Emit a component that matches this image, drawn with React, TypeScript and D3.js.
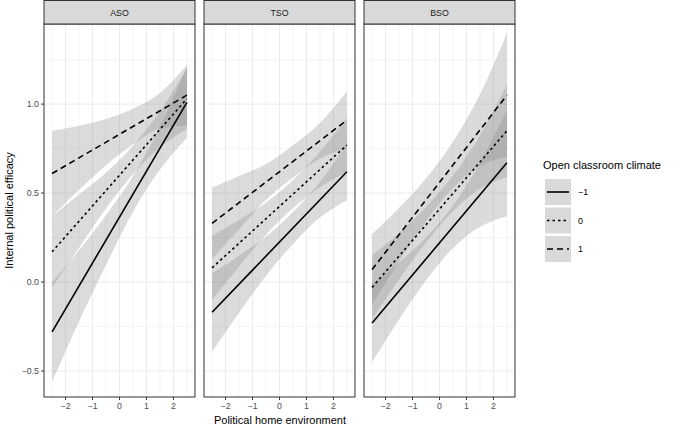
import React from "react";
import * as d3 from "d3";

const panels = ["ASO", "TSO", "BSO"];
const levels = ["-1", "0", "1"];
const xs = [-2.5, -1.5, -0.5, 0.5, 1.5, 2.5];
// fitted line [start, end] per panel, per level
const lineASO = [[-0.28, 1.01], [0.17, 1.03], [0.61, 1.05]];
const lineTSO = [[-0.17, 0.62], [0.08, 0.77], [0.33, 0.91]];
const lineBSO = [[-0.23, 0.67], [-0.03, 0.85], [0.07, 1.05]];
// CI half-widths at xs
const hwASO = [[0.28, 0.2, 0.14, 0.1, 0.12, 0.2], [0.2, 0.15, 0.1, 0.08, 0.1, 0.17], [0.24, 0.18, 0.13, 0.1, 0.1, 0.17]];
const hwTSO = [[0.22, 0.16, 0.11, 0.09, 0.1, 0.16], [0.18, 0.13, 0.09, 0.08, 0.1, 0.15], [0.2, 0.15, 0.1, 0.09, 0.1, 0.16]];
const hwBSO = [[0.22, 0.16, 0.12, 0.12, 0.18, 0.3], [0.18, 0.13, 0.1, 0.1, 0.15, 0.26], [0.2, 0.15, 0.12, 0.13, 0.2, 0.35]];
const xTicks = [-2, -1, 0, 1, 2];
const yTicks = [-0.5, 0, 0.5, 1];
const dashes = [null, "2.5,3", "6,4"];

const lines = [lineASO, lineTSO, lineBSO];
const hws = [hwASO, hwTSO, hwBSO];

export default function App() {
  const W = 685, H = 429;
  const pw = 151, gap = 9, left0 = 44, top = 24, bottom = 397;
  const y = d3.scaleLinear().domain([-0.646, 1.45]).range([bottom, top]);
  const font = "Liberation Sans, Arial, sans-serif";
  return (
    <svg width={W} height={H} style={{ position: "absolute", left: 0, top: 0 }} fontFamily={font}>
      <rect width={W} height={H} fill="#fff" />
      {panels.map((p, pi) => {
        const x0 = left0 + pi * (pw + gap);
        const x = d3.scaleLinear().domain([-2.8, 2.8]).range([x0, x0 + pw]);
        const area = d3.area<number>().x((_, i) => x(xs[i])).curve(d3.curveMonotoneX);
        return (
          <g key={p}>
            {d3.range(-0.5, 1.45, 0.25).map((v) => (
              <line key={"hy" + v} x1={x0} x2={x0 + pw} y1={y(v)} y2={y(v)} stroke="#ebebeb" strokeWidth={Number.isInteger(v * 2) ? 1 : 0.5} />
            ))}
            {d3.range(-2.5, 2.6, 0.5).map((v) => (
              <line key={"vx" + v} x1={x(v)} x2={x(v)} y1={top} y2={bottom} stroke="#ebebeb" strokeWidth={Number.isInteger(v) ? 1 : 0.5} />
            ))}
            {levels.map((l, li) => {
              const [a, b] = lines[pi][li];
              const vals = xs.map((xv) => a + ((b - a) * (xv + 2.5)) / 5);
              const hw = hws[pi][li];
              const path = area.y0((_, i) => y(vals[i] - hw[i])).y1((_, i) => y(vals[i] + hw[i]))(vals);
              return <path key={"r" + l} d={path || ""} fill="#888" fillOpacity={0.3} />;
            })}
            {levels.map((l, li) => {
              const [a, b] = lines[pi][li];
              return (
                <line key={"l" + l} x1={x(-2.5)} y1={y(a)} x2={x(2.5)} y2={y(b)} stroke="#000" strokeWidth={1.6}
                  strokeDasharray={dashes[li] || undefined} />
              );
            })}
            <rect x={x0} y={top} width={pw} height={bottom - top} fill="none" stroke="#333" strokeWidth={1} />
            <rect x={x0} y={0.5} width={pw} height={top - 0.5} fill="#d9d9d9" stroke="#333" strokeWidth={1} />
            <text x={x0 + pw / 2} y={15.5} textAnchor="middle" fontSize={8.8} fill="#1a1a1a">{p}</text>
            {xTicks.map((t) => (
              <g key={"xt" + t}>
                <line x1={x(t)} x2={x(t)} y1={bottom} y2={bottom + 3} stroke="#333" />
                <text x={x(t)} y={bottom + 12} textAnchor="middle" fontSize={8.8} fill="#4d4d4d">{t < 0 ? "\u2212" + -t : t}</text>
              </g>
            ))}
          </g>
        );
      })}
      {yTicks.map((t) => (
        <g key={"yt" + t}>
          <line x1={left0 - 3} x2={left0} y1={y(t)} y2={y(t)} stroke="#333" />
          <text x={left0 - 5} y={y(t) + 3} textAnchor="end" fontSize={8.8} fill="#4d4d4d">{t < 0 ? "\u2212" + (-t).toFixed(1) : t.toFixed(1)}</text>
        </g>
      ))}
      <text x={280} y={424} textAnchor="middle" fontSize={11} fill="#000">Political home environment</text>
      <text transform={`translate(13,${(top + bottom) / 2}) rotate(-90)`} textAnchor="middle" fontSize={11} fill="#000">Internal political efficacy</text>
      <text x={543} y={169} fontSize={11} fill="#000">Open classroom climate</text>
      {levels.map((l, li) => {
        const cy = 192 + li * 28.5;
        return (
          <g key={"lg" + l}>
            <rect x={545} y={cy - 13} width={26} height={26} fill="#d9d9d9" />
            <line x1={547} x2={569} y1={cy} y2={cy} stroke="#000" strokeWidth={1.6} strokeDasharray={dashes[li] || undefined} />
            <text x={578} y={cy + 3} fontSize={8.8} fill="#000">{l === "-1" ? "\u22121" : l}</text>
          </g>
        );
      })}
    </svg>
  );
}
